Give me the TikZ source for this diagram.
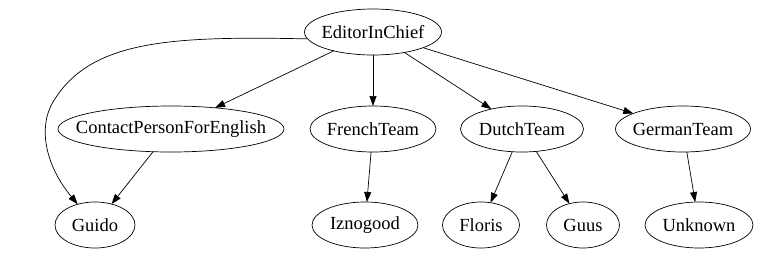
\documentclass[tikz,border=0pt]{standalone}
\usepackage{fontspec}
\setmainfont{Liberation Serif}
\usetikzlibrary{arrows.meta,shapes.geometric}

\begin{document}
\begin{tikzpicture}[x=1pt,y=-1pt,>={Triangle[length=10pt,width=7pt]},line width=0.7pt,
  ell/.style={draw,ellipse,inner xsep=-40pt,inner ysep=-10pt,outer sep=0pt,minimum height=46pt,font=\fontsize{18.5}{20}\selectfont}]
\useasboundingbox (0,0) rectangle (761,255);
\node[ell,minimum width=137pt] (editor) at (373,32) {EditorInChief};
\node[ell,minimum width=226pt] (contact) at (171,129) {ContactPersonForEnglish};
\node[ell,minimum width=126pt] (french) at (373,129) {FrenchTeam};
\node[ell,minimum width=123pt] (dutch) at (522,129) {DutchTeam};
\node[ell,minimum width=135pt] (german) at (683,129) {GermanTeam};
\node[ell,minimum width=80pt] (guido) at (95,225) {Guido};
\node[ell,minimum width=106pt] (iznogood) at (365,225) {Iznogood};
\node[ell,minimum width=77pt] (floris) at (481,225) {Floris};
\node[ell,minimum width=73pt] (guus) at (583,225) {Guus};
\node[ell,minimum width=108pt] (unknown) at (699,225) {Unknown};
% edges
\draw[->] (editor.186) .. controls (170,36) and (90,40) .. (53,102) .. controls (38,127) and (45,165) .. (guido);
\draw[->] (editor) -- (contact);
\draw[->] (editor) -- (french);
\draw[->] (editor) -- (dutch);
\draw[->] (editor) -- (german);
\draw[->] (contact) -- (guido);
\draw[->] (french) -- (iznogood);
\draw[->] (dutch) -- (floris);
\draw[->] (dutch) -- (guus);
\draw[->] (german) -- (unknown);
\end{tikzpicture}
\end{document}
